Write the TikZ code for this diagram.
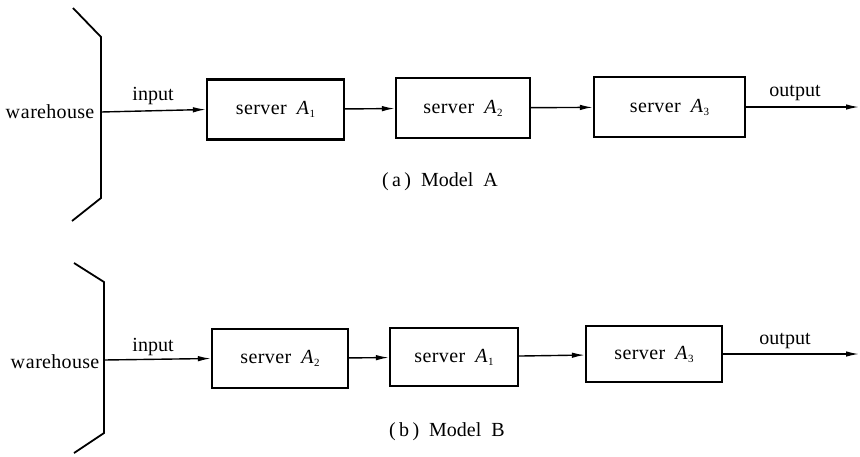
\documentclass[tikz,border=0pt]{standalone}
\usepackage{fontspec}
\setmainfont{Liberation Serif}
\usetikzlibrary{arrows.meta, positioning}
\newcommand{\srvname}[1]{s\kern0.4pt e\kern0.4pt r\kern0.4pt v\kern0.4pt e\kern0.4pt r\ \ \textit{A}\kern0.5pt\raisebox{-3pt}{\fontsize{11}{12}\selectfont #1}}

\begin{document}
\begin{tikzpicture}[
    x=1pt, y=-1pt,
    font=\fontsize{20}{23}\selectfont,
    srv/.style={
      draw, line width=2.2pt, inner sep=0pt, minimum height=60pt
    },
    flow/.style={line width=1.4pt, -{Latex[length=13pt,width=5.5pt]}},
    wall/.style={line width=1.8pt},
    lbl/.style={inner sep=1pt}
  ]
    \useasboundingbox (0,0) rectangle (860,456);

    % (a) Model A
    \draw[wall] (73,8) -- (101,37) -- (101,198) -- (72,221);
    \coordinate (wa) at (101,112);
    \node[lbl] (wha) at (50,112) {w\kern0.6pt a\kern0.6pt r\kern0.3pt e\kern0.3pt h\kern0.3pt o\kern0.3pt u\kern0.3pt s\kern0.3pt e};
    \node[srv, minimum width=137pt] (a1) at (275.5,109.5) {\srvname{1}};
    \node[srv, minimum width=134pt] (a2) at (463,108) {\srvname{2}};
    \node[srv, minimum width=151pt] (a3) at (669.5,107) {\srvname{3}};
    \coordinate (oa) at (859,107);
    \draw[flow] (wa) -- (a1.west);
    \draw[flow] (a1) -- (a2);
    \draw[flow] (a2) -- (a3);
    \draw[flow] (a3.east) -- (oa);
    \node[lbl] (ina) at (153,96) {input};
    \node[lbl] (outa) at (795,93) {output};
    \node (capa) at (440,182) {(\,a\,)\ \ Model\ \ A};

    % (b) Model B
    \draw[wall] (74,263) -- (104,282) -- (104,433) -- (74,453);
    \coordinate (wb) at (104,360);
    \node[lbl] (whb) at (55,362) {w\kern0.6pt a\kern0.6pt r\kern0.3pt e\kern0.3pt h\kern0.3pt o\kern0.3pt u\kern0.3pt s\kern0.3pt e};
    \node[srv, minimum width=136pt, minimum height=59pt] (b1) at (280,358.5) {\srvname{2}};
    \node[srv, minimum width=128pt, minimum height=58pt] (b2) at (454,357) {\srvname{1}};
    \node[srv, minimum width=136pt, minimum height=56pt] (b3) at (654,354) {\srvname{3}};
    \coordinate (ob) at (859,354);
    \draw[flow] (wb) -- (b1.west);
    \draw[flow] (b1) -- (b2);
    \draw[flow] (b2) -- (b3);
    \draw[flow] (b3.east) -- (ob);
    \node[lbl] (inb) at (153,347) {input};
    \node[lbl] (outb) at (785,341) {output};
    \node (capb) at (447,432) {(\,b\,)\ \ Model\ \ B};
  \end{tikzpicture}
\end{document}
